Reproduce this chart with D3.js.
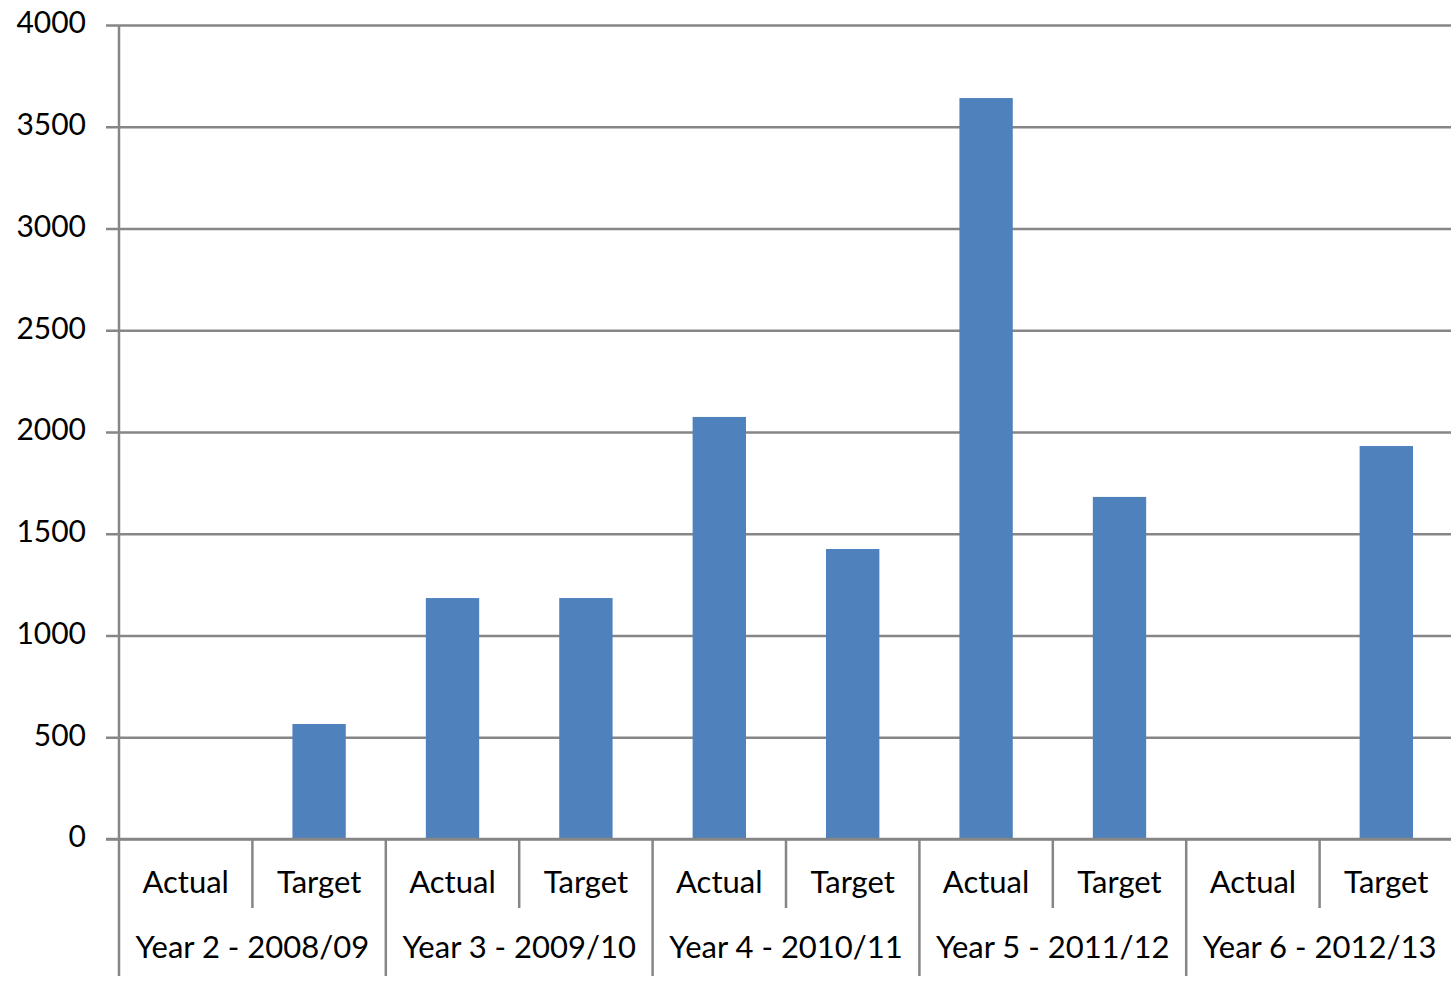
<!DOCTYPE html>
<html>
<head>
<meta charset="utf-8">
<script src="https://cdn.jsdelivr.net/npm/d3@7"></script>
<style>
  html, body { margin: 0; padding: 0; background: #fff; }
  svg text { font-family: Lato, "Open Sans", sans-serif; fill: #000; }
</style>
</head>
<body>
<div id="chart"></div>
<script>
// data
const years = ['Year 2 - 2008/09', 'Year 3 - 2009/10', 'Year 4 - 2010/11', 'Year 5 - 2011/12', 'Year 6 - 2012/13']
const kinds = ['Actual', 'Target']
const actual = [null, 1184, 2074, 3641, null]
const target = [565, 1184, 1425, 1681, 1931]
const yTicks = [0, 500, 1000, 1500, 2000, 2500, 3000, 3500, 4000]

const width = 1451,
      height = 984,
      plotLeft = 119,
      plotRight = 1453,
      plotTop = 25,
      plotBottom = 839

const rows = []
years.forEach((yr, i) => {
  rows.push({ key: yr + '|Actual', year: yr, kind: kinds[0], value: actual[i] })
  rows.push({ key: yr + '|Target', year: yr, kind: kinds[1], value: target[i] })
})

const x = d3.scaleBand()
            .domain(rows.map(d => d.key))
            .range([plotLeft, plotRight])
            .paddingInner(0.6)
            .paddingOuter(0.3)

const y = d3.scaleLinear()
            .domain([0, 4000])
            .range([plotBottom, plotTop])

const svg = d3.select('#chart').append('svg')
              .attr('width', width)
              .attr('height', height)

const grid = '#868686'

// gridlines + y labels
const yAxis = d3.axisLeft(y).tickValues(yTicks).tickFormat(d3.format('d'))
                .tickSize(-(plotRight - plotLeft + 13))
const gy = svg.append('g')
              .attr('transform', `translate(${plotLeft - 13}, 0)`)
              .call(yAxis)
gy.select('.domain').remove()
gy.selectAll('.tick line').attr('stroke', grid).attr('stroke-width', 2.5)
gy.selectAll('.tick text')
  .attr('font-size', 30)
  .attr('x', -20)
  .attr('dy', '0.26em')

// bars
svg.append('g').selectAll('rect')
   .data(rows.filter(d => d.value != null)).enter()
   .append('rect')
   .attr('x', d => x(d.key))
   .attr('width', x.bandwidth())
   .attr('y', d => y(d.value))
   .attr('height', d => y(0) - y(d.value))
   .attr('fill', '#4F81BD')

// axis lines
svg.append('line')
   .attr('x1', plotLeft).attr('x2', plotLeft)
   .attr('y1', plotTop).attr('y2', 976)
   .attr('stroke', grid).attr('stroke-width', 2.5)
svg.append('line')
   .attr('x1', plotLeft - 13).attr('x2', plotRight)
   .attr('y1', plotBottom).attr('y2', plotBottom)
   .attr('stroke', grid).attr('stroke-width', 2.5)

// category separators
const step = x.step()
rows.forEach((d, i) => {
  if (i === 0) return
  const sx = x(d.key) - (step - x.bandwidth()) / 2
  svg.append('line')
     .attr('x1', sx).attr('x2', sx)
     .attr('y1', plotBottom).attr('y2', i % 2 === 0 ? 976 : 908)
     .attr('stroke', grid).attr('stroke-width', 2.5)
})

// category labels
svg.append('g').selectAll('text')
   .data(rows).enter()
   .append('text')
   .attr('x', d => x(d.key) + x.bandwidth() / 2)
   .attr('y', 893)
   .attr('text-anchor', 'middle')
   .attr('font-size', 31)
   .text(d => d.kind)

// year labels
svg.append('g').selectAll('text')
   .data(years).enter()
   .append('text')
   .attr('x', d => (x(d + '|Actual') + x(d + '|Target') + x.bandwidth()) / 2)
   .attr('y', 958)
   .attr('text-anchor', 'middle')
   .attr('font-size', 31)
   .text(d => d)
</script>
</body>
</html>
